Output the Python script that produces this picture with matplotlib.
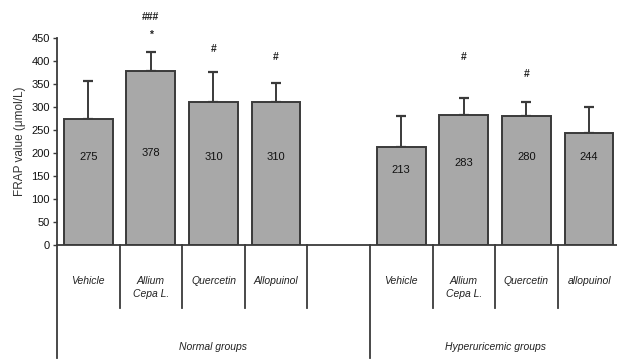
import numpy as np
import matplotlib
matplotlib.use("Agg")
import matplotlib.pyplot as plt

plt.rcParams['font.family'] = ['Liberation Sans', 'DejaVu Sans']

# データ
categories = ["Vehicle", "Allium\nCepa L.", "Quercetin", "Allopuinol",
              "Vehicle", "Allium\nCepa L.", "Quercetin", "allopuinol"]
groups = ["Normal groups", "Hyperuricemic groups"]
frap_mean = [275, 378, 310, 310, 213, 283, 280, 244]
frap_err = [82, 41, 66, 42, 67, 36, 31, 56]
marks = ["", "*", "#", "#", "", "#", "#", ""]
marks_top = ["", "###", "", "", "", "", "", ""]

# レイアウト（スロット4は空き）
slots = [0, 1, 2, 3, 5, 6, 7, 8]
x = np.array(slots) + 0.5
label_y = [191, 200, 191, 191, 163, 178, 191, 191]
mark_y = [0, 457, 426, 409, 0, 409, 372, 0]
edge = '#3a3a3a'

fig = plt.figure(figsize=(6.17, 3.59), dpi=100)
ax = fig.add_axes([0.0924, 0.3175, 0.913, 0.5765])

ax.bar(x, frap_mean, width=0.78, color='#a8a8a8', edgecolor=edge, linewidth=1.4, zorder=2)
ax.errorbar(x, frap_mean, yerr=[np.zeros(len(frap_err)), frap_err], fmt='none',
            ecolor=edge, elinewidth=1.4, capsize=3.5, capthick=1.6, zorder=1)

for xi, v, ly in zip(x, frap_mean, label_y):
    ax.text(xi, ly, str(v), ha='center', va='center', fontsize=8, color='#111111')

for xi, m, my in zip(x, marks, mark_y):
    if m:
        ax.text(xi, my, m, ha='center', va='center', fontsize=7.5, fontweight='bold',
                color='#222222', clip_on=False)
for xi, m in zip(x, marks_top):
    if m:
        ax.text(xi, 496, m, ha='center', va='center', fontsize=7.5, fontweight='bold',
                color='#222222', clip_on=False)

ax.set_xlim(0, 9)
ax.set_ylim(0, 450)
ax.set_yticks(np.arange(0, 451, 50))
ax.set_xticks([])
ax.tick_params(axis='y', direction='out', length=3, width=1, colors=edge, labelsize=8,
               labelcolor='#111111', pad=2)
ax.set_ylabel("FRAP value (μmol/L)", fontsize=8.5, color='#333333', labelpad=4)

for s in ['top', 'right']:
    ax.spines[s].set_visible(False)
for s in ['left', 'bottom']:
    ax.spines[s].set_color(edge)
    ax.spines[s].set_linewidth(1.3)

# 下の区切り線とラベル
tr = ax.get_xaxis_transform()
for b in [1, 2, 3, 4, 6, 7, 8]:
    ax.plot([b, b], [0, -0.304], color=edge, lw=1.3, transform=tr, clip_on=False)
for b in [0, 5]:
    ax.plot([b, b], [0, -0.545], color=edge, lw=1.3, transform=tr, clip_on=False)

for xi, c in zip(x, categories):
    ax.text(xi, -0.15, c, ha='center', va='top', fontsize=7.5, style='italic',
            color='#222222', transform=tr, linespacing=1.4)

ax.text(2.5, -0.493, groups[0], ha='center', va='center', fontsize=7.5, style='italic',
        color='#222222', transform=tr)
ax.text(7.0, -0.493, groups[1], ha='center', va='center', fontsize=7.5, style='italic',
        color='#222222', transform=tr)

fig.savefig("out.png", dpi=100)
